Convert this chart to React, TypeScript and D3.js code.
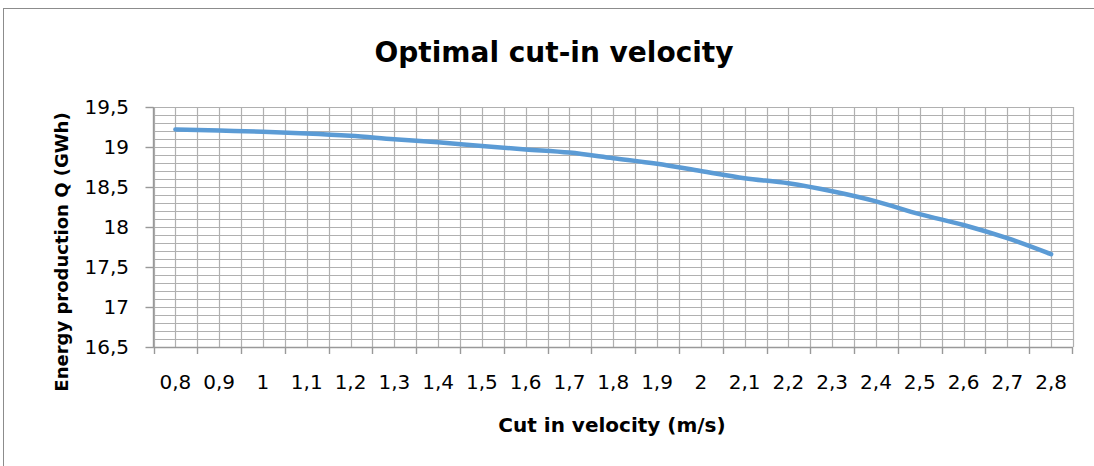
import React from "react";
import * as d3 from "d3";

const categories: string[] = ["0,8","0,9","1","1,1","1,2","1,3","1,4","1,5","1,6","1,7","1,8","1,9","2","2,1","2,2","2,3","2,4","2,5","2,6","2,7","2,8"];
const energy: number[] = [19.22,19.205,19.19,19.17,19.14,19.096,19.058,19.013,18.97,18.93,18.86,18.79,18.70,18.61,18.546,18.446,18.32,18.16,18.025,17.86,17.66];
const yTicks: number[] = [16.5,17,17.5,18,18.5,19,19.5];
const yTickLabels: string[] = ["16,5","17","17,5","18","18,5","19","19,5"];

const W = 1094, H = 466;
const left = 153.5, right = 1073, top = 107, bottom = 347;
const FONT = "'DejaVu Sans', sans-serif";

export default function App() {
  const x = d3.scaleBand<string>().domain(categories).range([left, right]).padding(0);
  const y = d3.scaleLinear().domain([16.5, 19.5]).range([bottom, top]);
  const bw = x.bandwidth();

  const vGrid: number[] = [];
  categories.forEach((c) => {
    vGrid.push(x(c)!);
    vGrid.push(x(c)! + bw / 2);
  });
  vGrid.push(right);
  const hGrid = d3.range(0, 31).map((i) => 16.5 + i * 0.1);

  const line = d3
    .line<number>()
    .x((_, i) => x(categories[i])! + bw / 2)
    .y((d) => y(d))
    .curve(d3.curveMonotoneX);

  const gridColor = "#B0B0B0";
  const axisColor = "#999999";

  return (
    <svg width={W} height={H} style={{ position: "absolute", left: 0, top: 0, background: "#fff" }}>
      <rect x={3.5} y={8.5} width={1300} height={700} fill="#fff" stroke="#8C8C8C" strokeWidth={1} />
      <g>
        {hGrid.map((v, i) => (
          <line key={"h" + i} x1={left} x2={right} y1={Math.round(y(v)) + 0.5} y2={Math.round(y(v)) + 0.5} stroke={gridColor} strokeWidth={1.2} />
        ))}
        {vGrid.map((v, i) => (
          <line key={"v" + i} x1={Math.round(v) + 0.5} x2={Math.round(v) + 0.5} y1={top} y2={bottom} stroke={gridColor} strokeWidth={1.2} />
        ))}
      </g>
      {/* y axis */}
      <line x1={left} x2={left} y1={top} y2={bottom + 0.5} stroke={axisColor} strokeWidth={1.4} />
      {yTicks.map((t, i) => (
        <g key={"yt" + i}>
          <line x1={left - 8} x2={left} y1={Math.round(y(t)) + 0.5} y2={Math.round(y(t)) + 0.5} stroke={axisColor} strokeWidth={1.4} />
          <text x={129} y={y(t)} dy="0.36em" textAnchor="end" fontFamily={FONT} fontSize={20} fill="#000">
            {yTickLabels[i]}
          </text>
        </g>
      ))}
      {/* x axis */}
      <line x1={left} x2={right} y1={bottom + 0.5} y2={bottom + 0.5} stroke={axisColor} strokeWidth={1.4} />
      {categories.map((c) => (
        <line key={"xt" + c} x1={Math.round(x(c)!) + 0.5} x2={Math.round(x(c)!) + 0.5} y1={bottom} y2={bottom + 7} stroke={axisColor} strokeWidth={1.4} />
      ))}
      <line x1={right - 0.5} x2={right - 0.5} y1={bottom} y2={bottom + 7} stroke={axisColor} strokeWidth={1.4} />
      {categories.map((c) => (
        <text key={"xl" + c} x={x(c)! + bw / 2} y={389} textAnchor="middle" fontFamily={FONT} fontSize={20} fill="#000">
          {c}
        </text>
      ))}
      {/* line */}
      <path d={line(energy) || ""} fill="none" stroke="#5B9BD5" strokeWidth={4.5} strokeLinecap="round" strokeLinejoin="round" />
      {/* titles */}
      <text x={554} y={62} textAnchor="middle" fontFamily={FONT} fontSize={28} fontWeight="bold" fill="#000">
        Optimal cut-in velocity
      </text>
      <text x={612} y={432} textAnchor="middle" fontFamily={FONT} fontSize={20} fontWeight="bold" fill="#000">
        Cut in velocity (m/s)
      </text>
      <text transform="translate(68,252) rotate(-90)" textAnchor="middle" fontFamily={FONT} fontSize={18} fontWeight="bold" fill="#000">
        Energy production Q (GWh)
      </text>
    </svg>
  );
}
